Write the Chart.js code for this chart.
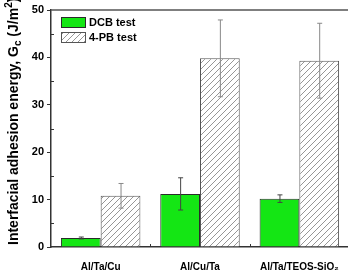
<!DOCTYPE html>
<html>
<head>
<meta charset="utf-8">
<script src="https://cdn.jsdelivr.net/npm/chart.js@4.4.0/dist/chart.umd.min.js"></script>
<style>
  html, body { margin: 0; padding: 0; background: #fff; overflow: hidden; }
  #wrap { width: 352px; height: 272px; }
</style>
</head>
<body>
<div id="wrap"><canvas id="chart" width="352" height="272"></canvas></div>
<script>
"use strict";

// data
var categories = ["Al/Ta/Cu", "Al/Cu/Ta", "Al/Ta/TEOS-SiO\u2082"];
var dcbValues = [1.9, 11.2, 10.2];
var dcbErrors = [0.2, 3.4, 0.8];
var pbValues = [10.8, 39.8, 39.3];
var pbErrors = [2.6, 8.1, 7.9];
var yTicks = [0, 10, 20, 30, 40, 50];

var FONT = "'Liberation Sans', Arial, sans-serif";

// hatch pattern for 4-PB bars
function makeHatch() {
	var c = document.createElement("canvas");
	c.width = 6; c.height = 6;
	var g = c.getContext("2d");
	g.fillStyle = "#fff";
	g.fillRect(0, 0, 6, 6);
	g.strokeStyle = "#8a8a8a";
	g.lineWidth = 0.9;
	g.beginPath();
	g.moveTo(-1, 7); g.lineTo(7, -1);
	g.moveTo(-4, 4); g.lineTo(4, -4);
	g.moveTo(2, 10); g.lineTo(10, 2);
	g.stroke();
	return g.createPattern(c, "repeat");
}

var errors = [dcbErrors, pbErrors];
var errColors = ["#444", "#888"];

var extras = {
	id: "extras",
	afterDatasetsDraw: function (chart) {
		var ctx = chart.ctx;
		var y = chart.scales.y;
		var x = chart.scales.x;
		var area = chart.chartArea;
		ctx.save();
		// error bars
		chart.data.datasets.forEach(function (ds, di) {
			var meta = chart.getDatasetMeta(di);
			meta.data.forEach(function (bar, i) {
				var v = ds.data[i], e = errors[di][i];
				var top = y.getPixelForValue(v + e);
				var bot = y.getPixelForValue(v - e);
				ctx.strokeStyle = errColors[di];
				ctx.lineWidth = 1;
				ctx.beginPath();
				ctx.moveTo(bar.x + 0.5, top);
				ctx.lineTo(bar.x + 0.5, bot);
				ctx.moveTo(bar.x - 2, top);
				ctx.lineTo(bar.x + 3, top);
				ctx.moveTo(bar.x - 2, bot);
				ctx.lineTo(bar.x + 3, bot);
				ctx.stroke();
			});
		});
		// legend inside the plot
		ctx.font = "bold 11px " + FONT;
		ctx.textBaseline = "middle";
		ctx.textAlign = "left";
		chart.data.datasets.forEach(function (ds, di) {
			var lx = area.left + 10, ly = area.top + 7 + di * 15;
			ctx.fillStyle = ds.backgroundColor;
			ctx.fillRect(lx, ly, 24, 10);
			ctx.strokeStyle = ds.borderColor;
			ctx.lineWidth = 1;
			ctx.strokeRect(lx + 0.5, ly + 0.5, 24, 10);
			ctx.fillStyle = "#000";
			ctx.fillText(ds.label, lx + 28, ly + 5.5);
		});
		// frame top
		ctx.strokeStyle = "#555";
		ctx.lineWidth = 1.5;
		ctx.beginPath();
		ctx.moveTo(area.left, area.top);
		ctx.lineTo(area.right + 5, area.top);
		ctx.stroke();
		// minor y ticks, inward
		ctx.lineWidth = 1;
		ctx.strokeStyle = "#333";
		ctx.beginPath();
		for (var m = 5; m < 50; m += 10) {
			var py = Math.round(y.getPixelForValue(m)) + 0.5;
			ctx.moveTo(area.left, py);
			ctx.lineTo(area.left + 3, py);
		}
		// x ticks between categories, inward
		for (var k = 0; k < categories.length - 1; k++) {
			var px = Math.round(x.getPixelForValue(k + 0.5)) + 0.5;
			ctx.moveTo(px, area.bottom);
			ctx.lineTo(px, area.bottom - 3);
		}
		ctx.stroke();
		// y title with subscript and superscript
		ctx.translate(18, 245);
		ctx.rotate(-Math.PI / 2);
		ctx.fillStyle = "#000";
		ctx.textBaseline = "alphabetic";
		ctx.textAlign = "left";
		var big = "bold 14px " + FONT;
		var small = "bold 10px " + FONT;
		var parts = [
			["Interfacial adhesion energy, G", big, 0],
			["c", small, 3],
			[" (J/m", big, 0],
			["2", small, -6],
			[")", big, 0]
		];
		var cx = 0;
		parts.forEach(function (p) {
			ctx.font = p[1];
			ctx.fillText(p[0], cx, p[2]);
			cx += ctx.measureText(p[0]).width;
		});
		ctx.restore();
	}
};

var ctx = document.getElementById("chart");
var chart = new Chart(ctx, {
	type: "bar",
	data: {
		labels: categories,
		datasets: [
			{
				label: "DCB test",
				data: dcbValues,
				backgroundColor: "#14e614",
				borderColor: "#2a2a2a",
				borderWidth: 1,
				categoryPercentage: 0.8,
				barPercentage: 1.0
			},
			{
				label: "4-PB test",
				data: pbValues,
				backgroundColor: makeHatch(),
				borderColor: "#555",
				borderWidth: 1,
				categoryPercentage: 0.8,
				barPercentage: 1.0
			}
		]
	},
	plugins: [extras],
	options: {
		responsive: false,
		animation: false,
		layout: { padding: { top: 10, right: 3, left: 0, bottom: 0 } },
		plugins: {
			tooltip: { enabled: false },
			legend: { display: false }
		},
		scales: {
			x: {
				afterFit: function (s) { s.height = 25; },
				grid: { display: false },
				border: { color: "#333", width: 1.5 },
				ticks: {
					color: "#000",
					padding: 6,
					font: { family: FONT, size: 10, weight: "bold" }
				}
			},
			y: {
				min: 0,
				max: 50,
				afterFit: function (s) { s.width = 51; },
				afterBuildTicks: function (s) {
					s.ticks = yTicks.map(function (v) { return { value: v }; });
				},
				grid: { drawOnChartArea: false, tickLength: 4, color: "#333" },
				border: { color: "#333", width: 1.5 },
				ticks: {
					color: "#000",
					padding: 3,
					font: { family: FONT, size: 11, weight: "bold" }
				}
			}
		}
	}
});
</script>
</body>
</html>
